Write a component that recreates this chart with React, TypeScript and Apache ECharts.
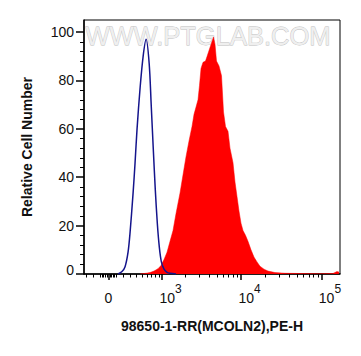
import React, { useEffect, useRef } from 'react';
import * as echarts from 'echarts';

// Biexponential (arcsinh) display transform used by the x axis scale
const BIEX_WIDTH = 225;
const biex = (v: number) => Math.log10(BIEX_WIDTH) + Math.asinh(v / (2 * BIEX_WIDTH)) / Math.LN10;

const X_MIN = -340;
const X_MAX = 170000;
const Y_MIN = 0;
const Y_MAX = 105;

const xTickValues = [0, 1000, 10000, 100000];
const xTickExponents: (number | null)[] = [null, 3, 4, 5];
const xMinorTickValues = [
  -300, -200, -100, -80, -60, -40, -20, 20, 40, 60, 80,
  100, 200, 300, 400, 500, 600, 700, 800, 900,
  2000, 3000, 4000, 5000, 6000, 7000, 8000, 9000,
  20000, 30000, 40000, 50000, 60000, 70000, 80000, 90000,
];
const yTickValues = [0, 20, 40, 60, 80, 100];
const yMinorTickValues = [4, 8, 12, 16, 24, 28, 32, 36, 44, 48, 52, 56, 64, 68, 72, 76, 84, 88, 92, 96];

// Isotype control (blue outline)
const controlIntensity = [126, 180, 223, 267, 297, 344, 378, 412, 467, 525, 586, 653, 700, 750, 802, 857, 915, 976, 1060, 1163, 1274, 1526];
const controlCount = [0, 1, 3, 9, 17, 33, 46, 60, 77, 90, 97, 87, 70, 52, 35, 21, 11, 5, 2, 0.7, 0.3, 0];

// Stained sample (red filled)
const sampleIntensity = [
  466, 584, 673, 770, 877, 965, 1060, 1163, 1274, 1395, 1526, 1719, 1878, 2051, 2238, 2443, 2589, 2744, 2907, 3036,
  3171, 3359, 3610, 3825, 4051, 4291, 4545, 4745, 4954, 5323, 5719, 6057, 6415, 6891, 7297, 7952, 8421, 8918, 9443,
  10000, 10588, 11374, 12218, 13313, 14507, 15810, 17227, 19316, 21656, 26460, 35213, 54090, 95870, 139070, 155630, 164790,
];
const sampleCount = [
  0, 0.3, 0.6, 1.2, 2.2, 3.5, 6, 9, 13.5, 18, 25, 33.5, 41, 48.5, 55, 61, 66, 69, 72, 78,
  85, 87.5, 88, 90.5, 93, 95.5, 98, 95, 88, 86, 82, 67, 61, 59, 52, 46, 38, 32, 26,
  21, 18, 16, 13.5, 10, 7, 5, 3.2, 2, 1.2, 0.6, 0.3, 0.2, 0.1, 0.2, 1, 0.8,
];

const X_TITLE = '98650-1-RR(MCOLN2),PE-H';
const Y_TITLE = 'Relative Cell Number';
const WATERMARK = 'WWW.PTGLAB.COM';

const FONT = '"Liberation Sans", Arial, Helvetica, sans-serif';
const TEXT_COLOR = '#111';

function buildOption() {
  const xMin = biex(X_MIN);
  const xMax = biex(X_MAX);
  const majorX = xTickValues.map(biex);
  const minorX = xMinorTickValues.map(biex);

  return {
    animation: false,
    backgroundColor: '#ffffff',
    textStyle: { fontFamily: FONT },
    grid: {
      left: 84, right: 21, top: 20, bottom: 82,
      show: true, borderColor: '#000', borderWidth: 1, backgroundColor: 'transparent',
    },
    graphic: [
      {
        type: 'text', left: 85, top: 23, z: 0,
        style: {
          text: WATERMARK, fontSize: 25.5, fontFamily: FONT,
          fill: '#efefef', stroke: '#bdbdbd', lineWidth: 0.8,
        },
      },
    ],
    xAxis: [
      {
        type: 'value', min: xMin, max: xMax, position: 'bottom',
        axisLine: { show: true, onZero: false, lineStyle: { color: '#000', width: 1.5 } },
        axisTick: { show: true, customValues: majorX, length: 6, lineStyle: { color: '#000', width: 1.5 } },
        axisLabel: {
          show: true, customValues: majorX, margin: 8.5, color: TEXT_COLOR,
          formatter: (v: number) => {
            const i = majorX.findIndex((t) => Math.abs(t - v) < 1e-6);
            if (i < 0) return '';
            const e = xTickExponents[i];
            return e == null ? `{z|${xTickValues[i]}}` : `{b|10}{s|${e}}`;
          },
          rich: {
            z: { fontSize: 14, fontFamily: FONT, color: TEXT_COLOR, padding: [8, 0, 0, 0] },
            b: { fontSize: 14, fontFamily: FONT, color: TEXT_COLOR, verticalAlign: 'bottom', padding: [0, 0, 0, 17] },
            s: { fontSize: 12, fontFamily: FONT, color: TEXT_COLOR, verticalAlign: 'bottom', padding: [0, 0, 10, 0] },
          },
        },
        splitLine: { show: false },
        name: X_TITLE, nameLocation: 'middle', nameGap: 45,
        nameTextStyle: { fontSize: 14, fontWeight: 'bold', color: TEXT_COLOR, fontFamily: FONT },
      },
      {
        type: 'value', min: xMin, max: xMax, position: 'bottom',
        axisLine: { show: false },
        axisTick: { show: true, customValues: minorX, length: 3.5, lineStyle: { color: '#000', width: 1 } },
        axisLabel: { show: false },
        splitLine: { show: false },
      },
    ],
    yAxis: [
      {
        type: 'value', min: Y_MIN, max: Y_MAX, position: 'left',
        axisLine: { show: true, onZero: false, lineStyle: { color: '#000', width: 1.5 } },
        axisTick: { show: true, customValues: yTickValues, length: 8, lineStyle: { color: '#000', width: 1.5 } },
        axisLabel: {
          show: true, customValues: yTickValues, margin: 10, fontSize: 14, color: TEXT_COLOR,
          formatter: (v: number) => (v === 0 ? '{z|0}' : String(v)),
          rich: { z: { fontSize: 14, fontFamily: FONT, color: TEXT_COLOR, padding: [0, 0, 8, 0] } },
        },
        splitLine: { show: false },
        name: Y_TITLE, nameLocation: 'middle', nameGap: 50,
        nameTextStyle: { fontSize: 14, fontWeight: 'bold', color: TEXT_COLOR, fontFamily: FONT },
      },
      {
        type: 'value', min: Y_MIN, max: Y_MAX, position: 'left',
        axisLine: { show: false },
        axisTick: { show: true, customValues: yMinorTickValues, length: 4, lineStyle: { color: '#000', width: 1 } },
        axisLabel: { show: false },
        splitLine: { show: false },
      },
    ],
    series: [
      {
        name: 'sample', type: 'line', xAxisIndex: 0, yAxisIndex: 0, z: 2,
        data: sampleIntensity.map((x, i) => [biex(x), sampleCount[i]]),
        symbol: 'none', smooth: false,
        lineStyle: { color: '#ff0000', width: 0.5 },
        areaStyle: { color: '#ff0000', opacity: 1 },
        silent: true,
      },
      {
        name: 'control', type: 'line', xAxisIndex: 0, yAxisIndex: 0, z: 3,
        data: controlIntensity.map((x, i) => [biex(x), controlCount[i]]),
        symbol: 'none', smooth: 0.3,
        lineStyle: { color: '#14148c', width: 1.5 },
        silent: true,
      },
    ],
  };
}

export default function App() {
  const ref = useRef<HTMLDivElement>(null);
  useEffect(() => {
    if (!ref.current) return;
    const chart = echarts.init(ref.current, null, { renderer: 'svg' });
    chart.setOption(buildOption() as any);
    return () => chart.dispose();
  }, []);
  return (
    <div
      ref={ref}
      style={{ position: 'fixed', left: 0, top: 0, width: 361, height: 356, background: '#fff' }}
    />
  );
}
